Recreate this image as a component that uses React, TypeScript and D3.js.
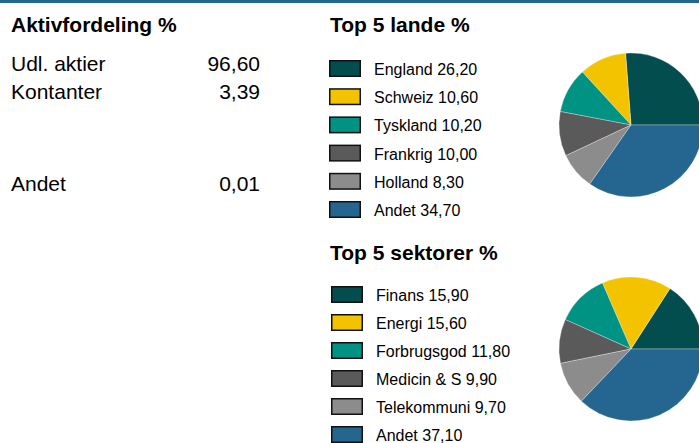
import React from "react";
import * as d3 from "d3";

const assetLabels = ["Udl. aktier", "Kontanter", "Andet"];
const assetValues = ["96,60", "3,39", "0,01"];

const countryLabels = ["England", "Schweiz", "Tyskland", "Frankrig", "Holland", "Andet"];
const countryValues = [26.2, 10.6, 10.2, 10.0, 8.3, 34.7];

const sectorLabels = ["Finans", "Energi", "Forbrugsgod", "Medicin & S", "Telekommuni", "Andet"];
const sectorValues = [15.9, 15.6, 11.8, 9.9, 9.7, 37.1];

const sliceColors = ["#034d4f", "#f3c300", "#009384", "#5a5a5a", "#8c8c8c", "#256690"];

const W = 699;
const H = 443;
const FONT = "'Liberation Sans', Arial, Helvetica, sans-serif";

const fmt = (v: number) => v.toFixed(2).replace(".", ",");

function Legend({ labels, values, x, y0, textX, step }: { labels: string[]; values: number[]; x: number; y0: number; textX: number; step: number }) {
  return (
    <g>
      {labels.map((l, i) => (
        <g key={l}>
          <rect x={x + 0.75} y={y0 + i * step + 0.75} width={30.5} height={15.5} fill={sliceColors[i]} stroke="#111" strokeWidth={1.5} />
          <text x={textX} y={y0 + i * step + 15} fontSize={16} fontFamily={FONT} fill="#000">
            {l} {fmt(values[i])}
          </text>
        </g>
      ))}
    </g>
  );
}

function Pie({ values, cx, cy, r }: { values: number[]; cx: number; cy: number; r: number }) {
  const pie = d3
    .pie<number>()
    .sort(null)
    .startAngle(Math.PI / 2)
    .endAngle(Math.PI / 2 - 2 * Math.PI);
  const arc = d3.arc<d3.PieArcDatum<number>>().innerRadius(0).outerRadius(r);
  const arcs = pie(values);
  return (
    <g transform={`translate(${cx},${cy})`}>
      {arcs.map((a, i) => (
        <path key={i} d={arc(a) || ""} fill={sliceColors[i]} stroke="#ffffff" strokeWidth={0.3} />
      ))}
    </g>
  );
}

export default function App() {
  const rowY = [71, 99, 191];
  return (
    <div style={{ position: "absolute", left: 0, top: 0 }}>
      <svg width={W} height={H} style={{ display: "block", background: "#fff" }}>
        <rect x={0} y={0} width={W} height={3} fill="#256690" />
        <text x={11} y={32} fontSize={21} fontWeight="bold" fontFamily={FONT} fill="#000">
          Aktivfordeling %
        </text>
        {assetLabels.map((l, i) => (
          <g key={l}>
            <text x={11} y={rowY[i]} fontSize={21} fontFamily={FONT} fill="#000">
              {l}
            </text>
            <text x={260} y={rowY[i]} fontSize={21} fontFamily={FONT} fill="#000" textAnchor="end">
              {assetValues[i]}
            </text>
          </g>
        ))}

        <text x={330} y={32} fontSize={21} fontWeight="bold" fontFamily={FONT} fill="#000">
          Top 5 lande %
        </text>
        <Legend labels={countryLabels} values={countryValues} x={329} y0={60} textX={374} step={28.2} />
        <Pie values={countryValues} cx={631} cy={125} r={72} />

        <text x={330} y={260} fontSize={21} fontWeight="bold" fontFamily={FONT} fill="#000">
          Top 5 sektorer %
        </text>
        <Legend labels={sectorLabels} values={sectorValues} x={331} y0={286} textX={376} step={28} />
        <Pie values={sectorValues} cx={631} cy={349} r={72} />
      </svg>
    </div>
  );
}
